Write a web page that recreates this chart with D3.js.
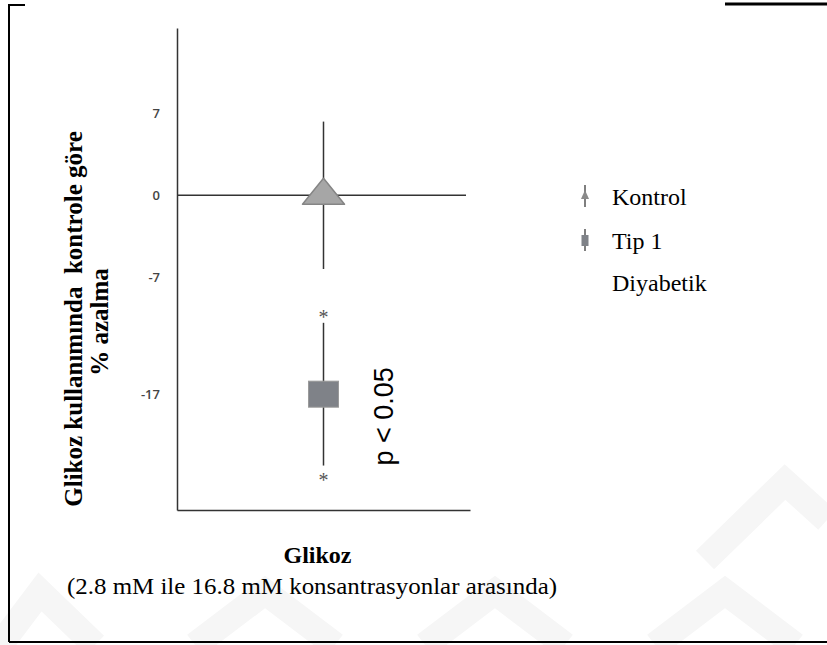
<!DOCTYPE html>
<html>
<head>
<meta charset="utf-8">
<script src="https://cdn.jsdelivr.net/npm/d3@7"></script>
<style>
  body { margin: 0; background: #fff; }
  svg { display: block; }
</style>
</head>
<body>
<div id="chart"></div>
<script>
// data
var groups = ["Kontrol", "Tip 1 Diyabetik"];
var category = ["Glikoz"];
var means = [0, -17];
var errors = [6.3, 6.1];
var yTicks = [7, 0, -7, -17];
var legendLines = [["Kontrol"], ["Tip 1", "Diyabetik"]];

var W = 827, H = 645;
var serif = "Liberation Serif, Times New Roman, serif";
var sans = "Open Sans, sans-serif";

var svg = d3.select("#chart").append("svg")
    .attr("width", W)
    .attr("height", H);

// faint background watermark chevrons
var marks = [[0, 645, 40, 592, 95, 645], [195, 645, 265, 592, 335, 645], [425, 645, 495, 592, 565, 645],
             [655, 645, 725, 592, 795, 645], [705, 560, 785, 482, 827, 520]];
marks.forEach(function (m) {
    svg.append("polyline")
        .attr("points", m[0] + "," + m[1] + " " + m[2] + "," + m[3] + " " + m[4] + "," + m[5])
        .attr("fill", "none")
        .attr("stroke", "#f6f6f6")
        .attr("stroke-width", 26);
});

// frame
svg.append("path").attr("d", "M9,642 V5 H25").attr("fill", "none").attr("stroke", "#000").attr("stroke-width", 2);
svg.append("path").attr("d", "M9,642 H827").attr("fill", "none").attr("stroke", "#000").attr("stroke-width", 2);
svg.append("path").attr("d", "M725,4 H827").attr("fill", "none").attr("stroke", "#000").attr("stroke-width", 3);

var margin = {left: 177, top: 28, right: 357, bottom: 135};
var plotW = W - margin.left - margin.right;
var plotH = H - margin.top - margin.bottom;

var x = d3.scaleBand().domain(category).range([0, plotW]);
var y = d3.scaleLinear().domain([-26.9, 14.3]).range([plotH, 0]);

var g = svg.append("g").attr("transform", "translate(" + margin.left + "," + margin.top + ")");

// axes
var yAxis = d3.axisLeft(y).tickValues(yTicks).tickSize(0).tickPadding(17)
    .tickFormat(function (d) { return String(d); });
var ya = g.append("g").call(yAxis);
ya.select(".domain").attr("stroke", "#333").attr("stroke-width", 1.5);
ya.selectAll("text").attr("font-family", sans).attr("font-size", 13)
    .attr("font-weight", 600).attr("fill", "#444");

var xAxis = d3.axisBottom(x).tickSize(0).tickFormat("");
var xa = g.append("g").attr("transform", "translate(0," + plotH + ")").call(xAxis);
xa.select(".domain").attr("stroke", "#333").attr("stroke-width", 1.5);

// zero line
g.append("line")
    .attr("x1", 0).attr("x2", plotW - 4)
    .attr("y1", y(0)).attr("y2", y(0))
    .attr("stroke", "#333").attr("stroke-width", 1.5);

var cx = x("Glikoz") + x.bandwidth() / 2;

// error bars
g.selectAll(".err")
    .data(groups)
    .enter().append("line")
    .attr("class", "err")
    .attr("x1", cx).attr("x2", cx)
    .attr("y1", function (d, i) { return y(means[i] + errors[i]); })
    .attr("y2", function (d, i) { return y(means[i] - errors[i]); })
    .attr("stroke", "#333").attr("stroke-width", 1.5);

// significance asterisks on the diabetic group
[1, -1].forEach(function (s) {
    g.append("text")
        .attr("x", cx)
        .attr("y", y(means[1] + s * errors[1]) - s * 10)
        .attr("dy", "0.55em")
        .attr("text-anchor", "middle")
        .attr("font-family", serif)
        .attr("font-size", 20)
        .attr("fill", "#555")
        .text("*");
});

// markers
var triPath = d3.line()([[-21, 9], [0, -17], [21, 9]]) + "Z";
g.append("path")
    .attr("d", triPath)
    .attr("transform", "translate(" + cx + "," + y(means[0]) + ")")
    .attr("fill", "#a6a6a6").attr("stroke", "#858585").attr("stroke-width", 1.5)
    .attr("stroke-linejoin", "round");

g.append("rect")
    .attr("x", cx - 15).attr("y", y(means[1]) - 13)
    .attr("width", 30).attr("height", 26)
    .attr("fill", "#7f8288").attr("stroke", "#9a9a9a").attr("stroke-width", 1);

// p value
g.append("text")
    .attr("transform", "translate(" + (cx + 69) + "," + y(-18.9) + ") rotate(-90)")
    .attr("text-anchor", "middle")
    .attr("font-family", "Liberation Sans, Arial, sans-serif")
    .attr("font-size", 27)
    .attr("fill", "#000")
    .text("p < 0.05");

// axis titles
svg.append("text")
    .attr("transform", "translate(82,319) rotate(-90)")
    .attr("text-anchor", "middle")
    .attr("font-family", serif).attr("font-weight", "bold").attr("font-size", 25)
    .style("white-space", "pre")
    .text("Glikoz kullanımında  kontrole göre");
svg.append("text")
    .attr("transform", "translate(108,322) rotate(-90)")
    .attr("text-anchor", "middle")
    .attr("font-family", serif).attr("font-weight", "bold").attr("font-size", 25)
    .text("% azalma");

svg.append("text")
    .attr("x", margin.left + cx - 6).attr("y", 563)
    .attr("text-anchor", "middle")
    .attr("font-family", serif).attr("font-weight", "bold").attr("font-size", 24)
    .text(category[0]);
svg.append("text")
    .attr("x", 312).attr("y", 594)
    .attr("text-anchor", "middle")
    .attr("font-family", serif).attr("font-size", 24)
    .attr("textLength", 490).attr("lengthAdjust", "spacingAndGlyphs")
    .text("(2.8 mM ile 16.8 mM konsantrasyonlar arasında)");

// legend
var legend = svg.append("g").attr("transform", "translate(585,197)");
legendLines.forEach(function (lines, i) {
    var row = legend.append("g").attr("transform", "translate(0," + (i * 44) + ")");
    row.append("line").attr("x1", 0).attr("x2", 0).attr("y1", -12).attr("y2", 10)
        .attr("stroke", "#555").attr("stroke-width", 1.5);
    if (i === 0) {
        row.append("path").attr("d", d3.line()([[-4, 2], [0, -7], [4, 2]]) + "Z")
            .attr("fill", "#8a8a8a");
    } else {
        row.append("rect").attr("x", -3.5).attr("y", -6).attr("width", 7).attr("height", 11)
            .attr("fill", "#7f8288");
    }
    lines.forEach(function (t, j) {
        row.append("text")
            .attr("x", 27).attr("y", j * 42)
            .attr("dy", "0.33em")
            .attr("font-family", serif).attr("font-size", 24)
            .text(t);
    });
});
</script>
</body>
</html>
